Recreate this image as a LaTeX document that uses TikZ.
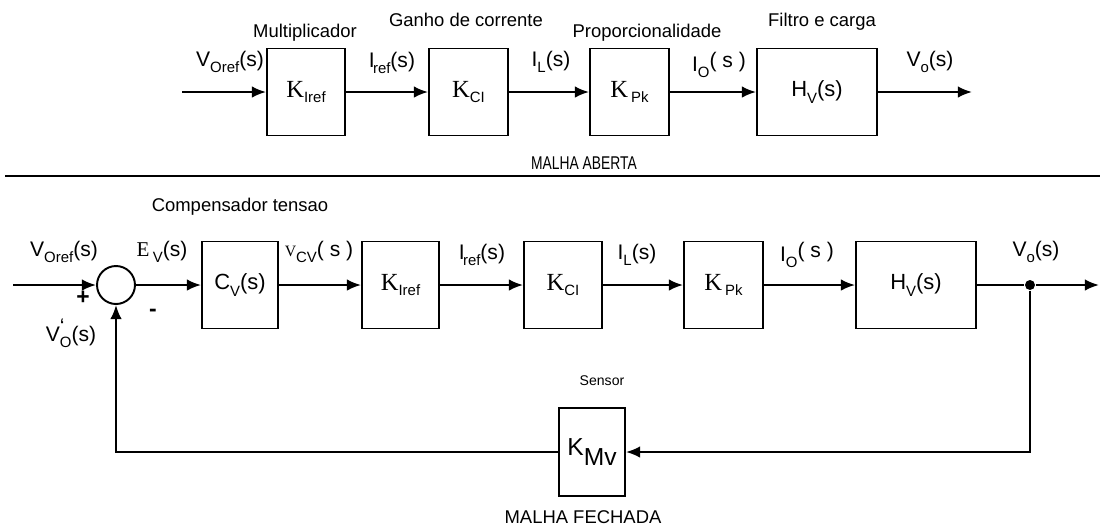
\documentclass[tikz,border=0pt]{standalone}
\usepackage{fontspec}
\setmainfont{Liberation Sans}
\newfontfamily\tnr{Liberation Serif}
\usepackage{tikz}
\usetikzlibrary{arrows.meta,positioning,calc}
\tikzset{>={Latex[length=8pt,width=6.5pt]}}

% indices
\newcommand{\ind}[1]{\raisebox{-0.55ex}{\fontsize{8.5}{9}\selectfont #1}}
\newcommand{\Kserif}{{\tnr\fontsize{14}{15}\selectfont K}}

\tikzset{
  bloco/.style={draw, line width=1.1pt, minimum height=1.74cm, inner sep=0pt},
  rotulo/.style={inner sep=0pt, font=\fontsize{12}{13}\selectfont},
  titulo/.style={inner sep=0pt, font=\fontsize{10.5}{12}\selectfont},
  liga/.style={->, line width=1.1pt}
}

\begin{document}
\begin{tikzpicture}[x=0.02cm, y=-0.02cm, line width=1.1pt]
    \useasboundingbox (0,0) rectangle (1100,529);

    % malha aberta
    \coordinate (inA) at (182,92);
    \node[bloco, minimum width=1.56cm] (ka) at (306,92) {\Kserif\ind{Iref}};
    \node[bloco, minimum width=1.58cm] (kb) at (468.5,92) {\Kserif\ind{CI}};
    \node[bloco, minimum width=1.58cm] (kc) at (629.5,92) {\Kserif\,\ind{Pk}};
    \node[bloco, minimum width=2.4cm] (hv) at (817,92) {\fontsize{12.5}{13}\selectfont H\ind{V}(s)};
    \coordinate (outA) at (972,92);

    \draw[liga] (inA) -- (ka);
    \draw[liga] (ka) -- (kb);
    \draw[liga] (kb) -- (kc);
    \draw[liga] (kc) -- (hv);
    \draw[liga] (hv) -- (outA);

    \node[titulo] (tmult) at (305,33) {Multiplicador};
    \node[titulo] (tganho) at (466,20) {Ganho de corrente};
    \node[titulo] (tprop) at (647,33) {Proporcionalidade};
    \node[titulo] (tfilt) at (822,22) {Filtro e carga};

    \node[rotulo] (lvref) at (230,62) {V\ind{Oref}(s)};
    \node[rotulo] (liref) at (392,63) {I\kern-1pt\ind{ref}(s)};
    \node[rotulo] (lil) at (551,62) {I\ind{L}(s)};
    \node[rotulo] (lio) at (719,65) {I\ind{O}\raisebox{0.3ex}{( s )}};
    \node[rotulo] (lvo) at (930,62) {V\ind{o}(s)};

    \node[titulo] (taberta) at (584,163) {\scalebox{0.75}[1]{MALHA ABERTA}};
    \coordinate (sepA) at (5,176);
    \coordinate (sepB) at (1100,176);
    \draw (sepA) -- (sepB);

    % malha fechada
    \coordinate (inB) at (13,285);
    \node[draw, circle, minimum size=0.76cm, inner sep=0pt] (soma) at (116,285) {};
    \node[bloco, minimum width=1.52cm] (cv) at (240,285) {\fontsize{12.5}{13}\selectfont C\ind{V}(s)};
    \node[bloco, minimum width=1.54cm] (kd) at (400.5,285) {\Kserif\ind{Iref}};
    \node[bloco, minimum width=1.56cm] (ke) at (563,285) {\Kserif\ind{CI}};
    \node[bloco, minimum width=1.58cm] (kf) at (723.5,285) {\Kserif\,\ind{Pk}};
    \node[bloco, minimum width=2.4cm] (hw) at (916,285) {\fontsize{12.5}{13}\selectfont H\ind{V}(s)};
    \node[circle, fill, minimum size=0.2cm, inner sep=0pt] (no) at (1030,285) {};
    \coordinate (outB) at (1099,285);
    \node[bloco, minimum width=1.32cm, minimum height=1.76cm] (kmv) at (592,452)
        {\fontsize{14}{15}\selectfont K\raisebox{-0.7ex}{Mv}};

    \draw[liga] (inB) -- (soma);
    \draw[liga] (soma) -- (cv);
    \draw[liga] (cv) -- (kd);
    \draw[liga] (kd) -- (ke);
    \draw[liga] (ke) -- (kf);
    \draw[liga] (kf) -- (hw);
    \draw (hw) -- (no);
    \draw[liga] (no) -- (outB);
    \draw[liga] (no) |- (kmv);
    \draw[liga] (kmv) -| (soma);

    \node[titulo] (tcomp) at (240,207) {Compensador tensao};
    \node[titulo, font=\fontsize{8}{9}\selectfont] (tsens) at (602,381) {Sensor};
    \node[titulo] (tfechada) at (583,517) {MALHA FECHADA};

    \node[rotulo] (lvref2) at (64,252) {V\ind{Oref}(s)};
    \node[rotulo, font=\bfseries\fontsize{13}{13}\selectfont] (lmais) at (83,298) {+};
    \node[rotulo, font=\bfseries\fontsize{13}{13}\selectfont] (lmenos) at (153,313) {-};
    \node[rotulo] (lvo2) at (71,333) {V\rlap{\raisebox{0.7ex}{\fontsize{12}{12}\selectfont`}}\ind{O}(s)};
    \node[rotulo] (lev) at (162,252) {{\tnr E}\,\ind{V}(s)};
    \node[rotulo] (lvcv) at (319,252) {{\tnr\fontsize{9}{9}\selectfont V}\ind{CV}( s )};
    \node[rotulo] (liref2) at (482,255) {I\kern-1pt\ind{ref}(s)};
    \node[rotulo] (lil2) at (637,255) {I\ind{L}(s)};
    \node[rotulo] (lio2) at (807,255) {I\ind{O}\raisebox{0.3ex}{( s )}};
    \node[rotulo] (lvo3) at (1036,252) {V\ind{o}(s)};
\end{tikzpicture}
\end{document}
